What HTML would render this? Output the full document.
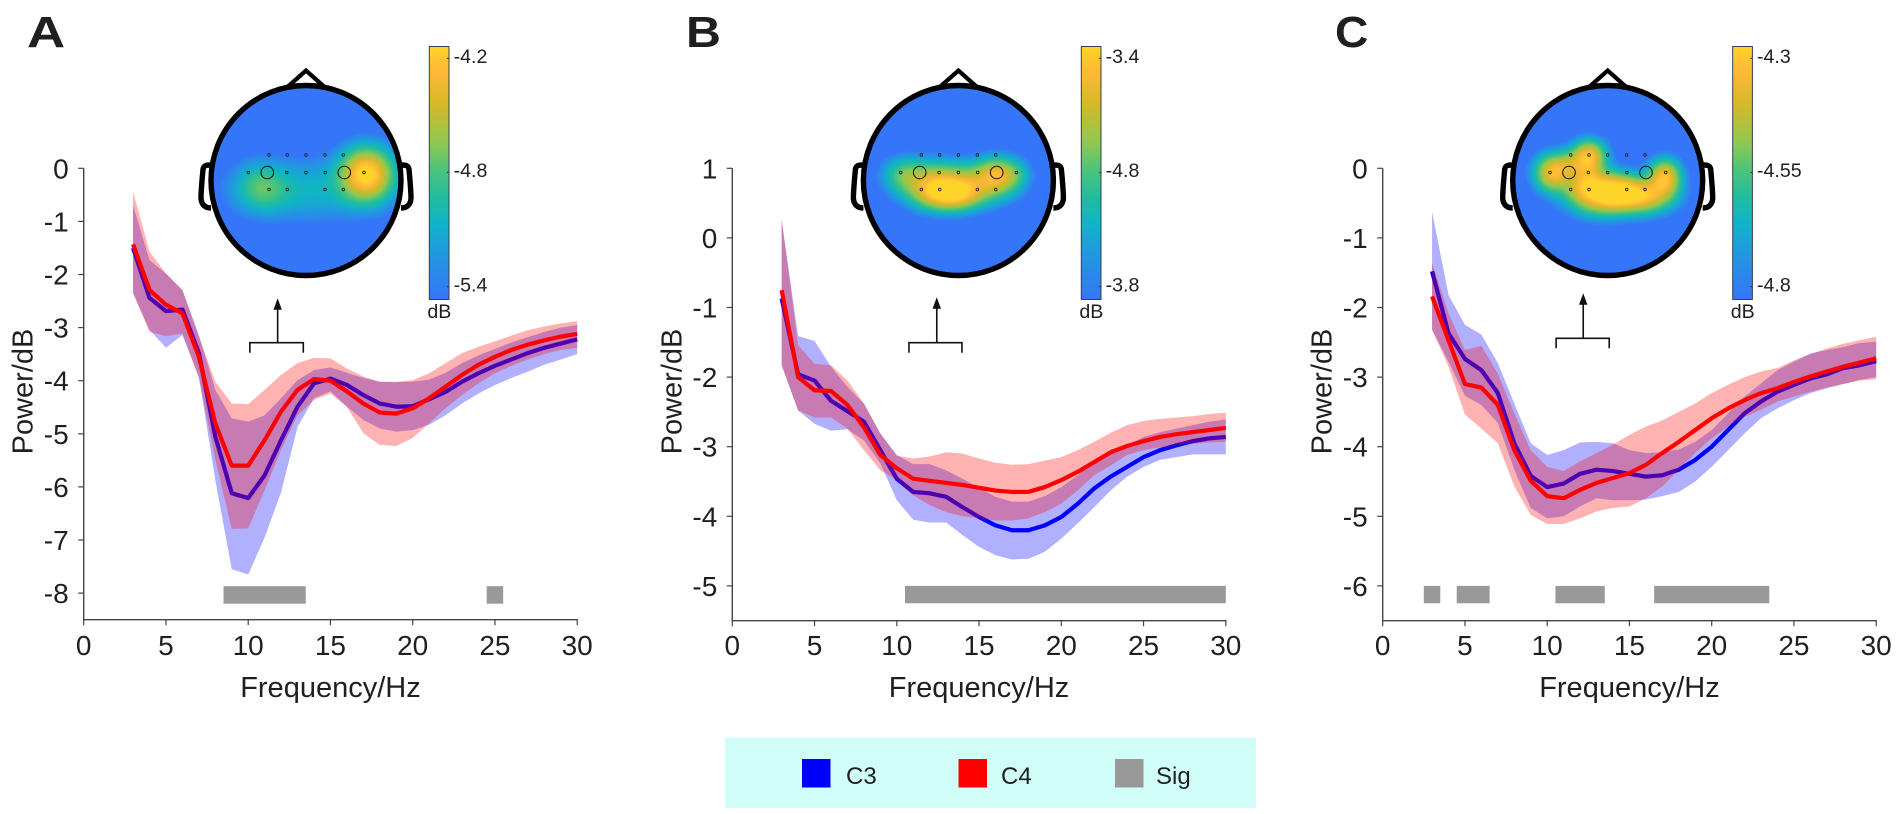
<!DOCTYPE html>
<html lang="en">
<head>
<meta charset="utf-8">
<title>EEG power spectra for C3 and C4</title>
<style>
  html, body { margin: 0; padding: 0; background: #fff; }
  #figure { position: relative; width: 1902px; height: 814px; overflow: hidden; background: #fff; font-family: "Liberation Sans", Arial, sans-serif; }
  #figure canvas { position: absolute; }
  #figure svg { position: absolute; left: 0; top: 0; }
  text { font-family: "Liberation Sans", Arial, sans-serif; fill: #1f1f1f; }
</style>
</head>
<body>
<div id="figure">
  <svg id="chart" width="1902" height="814" viewBox="0 0 1902 814">
    <defs id="defs"></defs>
    <g id="legend">
      <rect x="725" y="737.5" width="531" height="70.5" fill="#cffff8"></rect>
      <rect x="802" y="759" width="28.5" height="28.5" fill="#0000ff"></rect>
      <text x="846" y="784" font-size="24">C3</text>
      <rect x="958.5" y="759" width="28.5" height="28.5" fill="#ff0000"></rect>
      <text x="1001" y="784" font-size="24">C4</text>
      <rect x="1115" y="759" width="28.5" height="28.5" fill="#999999"></rect>
      <text x="1156" y="784" font-size="24">Sig</text>
    </g>
  </svg>
</div>
<script>
const frequencies = [3,4,5,6,7,8,9,10,11,12,13,14,15,16,17,18,19,20,21,22,23,24,25,26,27,28,29,30];
const xTicks = [0,5,10,15,20,25,30];

const yTicksA = [0,-1,-2,-3,-4,-5,-6,-7,-8];
const yTicksB = [1,0,-1,-2,-3,-4,-5];
const yTicksC = [0,-1,-2,-3,-4,-5,-6];

const c3MeanA  = [-1.5,-2.44,-2.69,-2.66,-3.48,-5.05,-6.12,-6.21,-5.78,-5.12,-4.49,-4.05,-3.96,-4.08,-4.27,-4.43,-4.49,-4.48,-4.35,-4.21,-4.02,-3.86,-3.72,-3.6,-3.48,-3.38,-3.3,-3.22];
const c3UpperA = [-0.69,-1.73,-1.98,-2.29,-3.14,-4.17,-4.71,-4.77,-4.65,-4.33,-3.99,-3.8,-3.75,-3.85,-3.95,-4.02,-4.03,-4.02,-3.98,-3.85,-3.67,-3.52,-3.4,-3.28,-3.18,-3.08,-3.0,-2.95];
const c3LowerA = [-2.35,-3.04,-3.38,-3.14,-3.92,-5.87,-7.55,-7.65,-6.95,-6.1,-4.87,-4.33,-4.2,-4.49,-4.74,-4.9,-4.96,-4.93,-4.83,-4.65,-4.43,-4.24,-4.08,-3.95,-3.83,-3.7,-3.6,-3.5];
const c4MeanA  = [-1.43,-2.29,-2.57,-2.73,-3.55,-4.8,-5.6,-5.6,-5.12,-4.58,-4.17,-3.97,-4.0,-4.2,-4.43,-4.6,-4.62,-4.52,-4.33,-4.11,-3.89,-3.7,-3.55,-3.42,-3.32,-3.24,-3.17,-3.12];
const c4UpperA = [-0.44,-1.57,-1.98,-2.3,-3.17,-4.02,-4.43,-4.44,-4.17,-3.89,-3.67,-3.57,-3.58,-3.77,-3.92,-4.02,-4.02,-3.99,-3.86,-3.67,-3.48,-3.36,-3.26,-3.15,-3.05,-2.98,-2.92,-2.88];
const c4LowerA = [-2.35,-3.08,-3.16,-3.11,-3.95,-5.49,-6.79,-6.78,-6.06,-5.3,-4.65,-4.36,-4.24,-4.49,-4.99,-5.21,-5.23,-5.08,-4.8,-4.52,-4.27,-4.05,-3.86,-3.72,-3.6,-3.5,-3.42,-3.38];
const sigRangesA = [[8.5,13.5],[24.5,25.5]];
const sigRowA = [-7.87,-8.2];

const c3MeanB  = [-0.87,-1.96,-2.05,-2.34,-2.49,-2.64,-3.05,-3.46,-3.65,-3.67,-3.72,-3.87,-4.01,-4.13,-4.2,-4.2,-4.13,-4.01,-3.82,-3.6,-3.43,-3.29,-3.15,-3.05,-2.98,-2.92,-2.88,-2.86];
const c3UpperB = [0.25,-1.41,-1.48,-1.85,-2.14,-2.38,-2.81,-3.12,-3.25,-3.25,-3.34,-3.46,-3.59,-3.72,-3.79,-3.79,-3.71,-3.58,-3.41,-3.22,-3.1,-2.98,-2.86,-2.79,-2.74,-2.69,-2.64,-2.61];
const c3LowerB = [-1.83,-2.48,-2.67,-2.77,-2.75,-2.91,-3.24,-3.77,-4.05,-4.09,-4.09,-4.27,-4.44,-4.56,-4.62,-4.61,-4.51,-4.32,-4.1,-3.87,-3.63,-3.43,-3.29,-3.19,-3.15,-3.11,-3.11,-3.11];
const c4MeanB  = [-0.75,-2.0,-2.19,-2.2,-2.4,-2.72,-3.12,-3.31,-3.46,-3.49,-3.52,-3.55,-3.59,-3.63,-3.65,-3.65,-3.58,-3.48,-3.36,-3.22,-3.08,-2.99,-2.92,-2.86,-2.82,-2.79,-2.76,-2.73];
const c4UpperB = [0.28,-1.54,-1.81,-1.83,-2.05,-2.38,-2.81,-3.13,-3.17,-3.14,-3.08,-3.1,-3.17,-3.23,-3.26,-3.25,-3.2,-3.15,-3.05,-2.93,-2.8,-2.69,-2.63,-2.6,-2.58,-2.56,-2.53,-2.51];
const c4LowerB = [-1.83,-2.48,-2.58,-2.58,-2.74,-3.05,-3.34,-3.48,-3.7,-3.84,-3.94,-4.0,-4.03,-4.06,-4.06,-4.03,-3.94,-3.82,-3.63,-3.41,-3.27,-3.12,-3.05,-3.01,-2.98,-2.96,-2.94,-2.93];
const sigRangesB = [[10.5,30]];
const sigRowB = [-5,-5.25];

const c3MeanC  = [-1.48,-2.37,-2.74,-2.9,-3.23,-3.95,-4.42,-4.58,-4.53,-4.39,-4.33,-4.35,-4.39,-4.43,-4.41,-4.33,-4.19,-4.0,-3.76,-3.52,-3.35,-3.21,-3.11,-3.02,-2.96,-2.87,-2.83,-2.77];
const c3UpperC = [-0.62,-1.82,-2.25,-2.39,-2.8,-3.38,-3.95,-4.12,-4.05,-3.94,-3.93,-3.95,-4.05,-4.09,-4.08,-4.04,-3.93,-3.76,-3.52,-3.28,-3.09,-2.9,-2.78,-2.66,-2.61,-2.57,-2.51,-2.49];
const c3LowerC = [-2.32,-2.78,-3.27,-3.4,-3.66,-4.33,-4.88,-5.03,-5.0,-4.86,-4.74,-4.77,-4.77,-4.76,-4.71,-4.65,-4.5,-4.29,-4.05,-3.81,-3.59,-3.45,-3.33,-3.23,-3.16,-3.1,-3.04,-3.0];
const c4MeanC  = [-1.84,-2.47,-3.1,-3.15,-3.4,-4.05,-4.49,-4.71,-4.74,-4.62,-4.52,-4.45,-4.38,-4.26,-4.09,-3.93,-3.76,-3.59,-3.45,-3.33,-3.23,-3.16,-3.07,-2.99,-2.92,-2.85,-2.79,-2.73];
const c4UpperC = [-1.36,-2.08,-2.61,-2.55,-2.95,-3.52,-4.05,-4.29,-4.35,-4.21,-4.09,-3.97,-3.83,-3.71,-3.62,-3.5,-3.38,-3.23,-3.11,-3.0,-2.92,-2.87,-2.76,-2.67,-2.59,-2.52,-2.47,-2.42];
const c4LowerC = [-2.32,-2.85,-3.54,-3.74,-3.95,-4.57,-4.98,-5.11,-5.11,-5.03,-4.93,-4.88,-4.86,-4.74,-4.57,-4.33,-4.09,-3.88,-3.71,-3.57,-3.47,-3.35,-3.28,-3.21,-3.15,-3.1,-3.05,-3.03];
const sigRangesC = [[2.5,3.5],[4.5,6.5],[10.5,13.5],[16.5,23.5]];
const sigRowC = [-6,-6.25];

const colorbarLabelsA = ['-4.2','-4.8','-5.4'];
const colorbarLabelsB = ['-3.4','-4.8','-3.8'];
const colorbarLabelsC = ['-4.3','-4.55','-4.8'];

/* topography: sums of gaussian sources [dx, dy, sx, sy, amplitude] */
const sourcesA = [[60.7,-7,17,17,1.0],[-42.7,8,17,15,0.26],[2,9,50,20,0.2],[-50,0,14,15,0.06]];
const sourcesB = [[-8,12,21,11,1.0],[40,-5,14,12,0.65],[-54,-5,14,12,0.35],[12,4,26,13,0.3],[-28,2,17,14,0.35],[0,-10,32,9,0.15],[60,-6,9,10,0.12]];
const sourcesC = [[-55,-8,12,12,0.8],[-19,-26,11,10,0.78],[-6,13,21,13,1.0],[34,15,20,11,0.82],[57,-4,10.5,11.5,0.82],[-20,-6,11,11,0.45],[-38,-17,11,9,0.3],[10,8,13,10,0.3],[-30,8,10,8,0.15]];

const colormapStops = [0,0.18,0.30,0.40,0.52,0.62,0.78,0.90,1];
const colormapColors = ['#3575f8','#2298e0','#10b4c8','#20bca0','#50c478','#90c850','#d8b828','#ffb838','#ffd428'];

const electrodeTopRow = [-37,-18.7,0,19,37.3];
const electrodeMidRow = [-57.7,-19.3,0,19.3,58];
const electrodeBottomRow = [-37,-18.7,19,37.3];
const referenceElectrodes = [-38.7,38.3];

const panels = [
  { id:'a', letter:'A', letterX:27, letterScale:1.2, left:83.7, top:168.3, pxPerDb:53.1, yMax:0, yMin:-8.5, yTicks:yTicksA,
    c3:[c3MeanA,c3UpperA,c3LowerA], c4:[c4MeanA,c4UpperA,c4LowerA], sig:sigRangesA, sigRow:sigRowA,
    bracket:[10.1,13.35], arrowHz:11.79, bracketY:342.7, arrowTip:298.3, headX:306, barX:429.3, barLabels:colorbarLabelsA, sources:sourcesA },
  { id:'b', letter:'B', letterX:686, letterScale:1.1, left:732.3, top:168.3, pxPerDb:69.6, yMax:1, yMin:-5.5, yTicks:yTicksB,
    c3:[c3MeanB,c3UpperB,c3LowerB], c4:[c4MeanB,c4UpperB,c4LowerB], sig:sigRangesB, sigRow:sigRowB,
    bracket:[10.74,13.96], arrowHz:12.43, bracketY:342.7, arrowTip:297.3, headX:958.4, barX:1081.3, barLabels:colorbarLabelsB, sources:sourcesB },
  { id:'c', letter:'C', letterX:1335, letterScale:1.05, left:1382.7, top:168.3, pxPerDb:69.6, yMax:0, yMin:-6.5, yTicks:yTicksC,
    c3:[c3MeanC,c3UpperC,c3LowerC], c4:[c4MeanC,c4UpperC,c4LowerC], sig:sigRangesC, sigRow:sigRowC,
    bracket:[10.54,13.77], arrowHz:12.19, bracketY:338.3, arrowTip:293.3, headX:1607.7, barX:1732.7, barLabels:colorbarLabelsC, sources:sourcesC }
];

const PX_PER_HZ = 16.45;
const HEAD_Y = 180.5;
const HEAD_R = 95;
const FIELD_FLOOR = 0.05;
const FIELD_GAMMA = 0.65;
const svg = document.getElementById('chart');
const defs = document.getElementById('defs');
const figure = document.getElementById('figure');
const NS = 'http://www.w3.org/2000/svg';

function make(parent, tag, props, text) {
  const node = document.createElementNS(NS, tag);
  for (const key in props) node.setAttribute(key, props[key]);
  if (text !== undefined) node.textContent = text;
  parent.appendChild(node);
  return node;
}

function hexToRgb(h) {
  return [parseInt(h.slice(1,3),16), parseInt(h.slice(3,5),16), parseInt(h.slice(5,7),16)];
}

function colormap(t) {
  t = Math.max(0, Math.min(1, t));
  for (let i = 1; i < colormapStops.length; i++) {
    if (t <= colormapStops[i]) {
      const u = (t - colormapStops[i-1]) / (colormapStops[i] - colormapStops[i-1]);
      const a = hexToRgb(colormapColors[i-1]);
      const b = hexToRgb(colormapColors[i]);
      return [a[0]+(b[0]-a[0])*u, a[1]+(b[1]-a[1])*u, a[2]+(b[2]-a[2])*u];
    }
  }
  return hexToRgb(colormapColors[colormapColors.length-1]);
}

function linePoints(xs, ys, sx, sy) {
  return xs.map((x, i) => sx(x).toFixed(2) + ',' + sy(ys[i]).toFixed(2)).join(' ');
}

function bandPoints(xs, upper, lower, sx, sy) {
  const a = xs.map((x, i) => sx(x).toFixed(2) + ',' + sy(upper[i]).toFixed(2));
  const b = xs.map((x, i) => sx(x).toFixed(2) + ',' + sy(lower[i]).toFixed(2)).reverse();
  return a.concat(b).join(' ');
}

function drawTopography(p) {
  const size = 2 * HEAD_R + 2;
  const canvas = document.createElement('canvas');
  canvas.width = size;
  canvas.height = size;
  canvas.style.left = (p.headX - HEAD_R - 1) + 'px';
  canvas.style.top = (HEAD_Y - HEAD_R - 1) + 'px';
  
  
  figure.insertBefore(canvas, svg);
  const ctx = canvas.getContext('2d');
  const image = ctx.createImageData(size, size);
  for (let j = 0; j < size; j++) {
    for (let i = 0; i < size; i++) {
      const dx = i - HEAD_R - 1 + 0.5;
      const dy = j - HEAD_R - 1 + 0.5;
      if (dx*dx + dy*dy > (HEAD_R+1)*(HEAD_R+1)) continue;
      let f = 0;
      for (const s of p.sources) {
        const ex = (dx - s[0]) / s[2];
        const ey = (dy - s[1]) / s[3];
        f += s[4] * Math.exp(-0.5 * (ex*ex + ey*ey));
      }
      const level = Math.max(0, Math.min(1, (f - FIELD_FLOOR) / (1 - FIELD_FLOOR)));
      const c = colormap(Math.pow(level, FIELD_GAMMA));
      const k = (j * size + i) * 4;
      image.data[k] = c[0];
      image.data[k+1] = c[1];
      image.data[k+2] = c[2];
      image.data[k+3] = 255;
    }
  }
  ctx.putImageData(image, 0, 0);
}

function drawHead(p) {
  const g = make(svg, 'g', { transform: 'translate(' + p.headX + ' ' + HEAD_Y + ')' });
  
  
  const outline = { fill: 'none', stroke: '#000', 'stroke-width': 5.4, 'stroke-linejoin': 'round' };
  const nose = make(g, 'polyline', { points: '-18,-94 0,-110 18,-94', fill: 'none', stroke: '#000', 'stroke-width': 4.2, 'stroke-linejoin': 'miter' });
  
  
  const earPath = 'M-95.5,-15.5 C-100,-15.5 -102.5,-15 -103,-11 C-104,0 -105,10 -105,18 C-104.5,24 -101,27.5 -95,27.5';
  const earL = make(g, 'path', Object.assign({ d: earPath }, outline));
  
  
  const earR = make(g, 'path', Object.assign({ d: earPath, transform: 'scale(-1 1)' }, outline));
  
  
  const circle = make(g, 'circle', Object.assign({ cx: 0, cy: 0, r: HEAD_R }, outline));
  
  
  const rows = [[electrodeTopRow, -25.5], [electrodeMidRow, -8], [electrodeBottomRow, 9]];
  for (const row of rows) {
    for (const ex of row[0]) {
      const dot = make(g, 'circle', { cx: ex, cy: row[1], r: 1.3, fill: 'none', stroke: '#222', 'stroke-width': 0.8 });
      
      
    }
  }
  for (const ex of referenceElectrodes) {
    const ring = make(g, 'circle', { cx: ex, cy: -8, r: 6.3, fill: 'none', stroke: '#111', 'stroke-width': 1 });
    
    
  }
}

function drawColorbar(p) {
  const gradId = 'bar-gradient-' + p.id;
  const grad = make(defs, 'linearGradient', { id: gradId, x1: 0, y1: 1, x2: 0, y2: 0 });
  colormapStops.forEach((s, i) => make(grad, 'stop', { offset: s, 'stop-color': colormapColors[i] }));
  const g = make(svg, 'g', {});
  
  
  const bar = make(g, 'rect', { x: p.barX, y: 46.5, width: 19.7, height: 253, fill: 'url(#' + gradId + ')', stroke: '#33424a', 'stroke-width': 1 });
  
  
  const tickYs = [58.3, 172.3, 286.7];
  p.barLabels.forEach((label, i) => {
    const tick = make(g, 'line', { x1: p.barX + 17.5, x2: p.barX + 19.7, y1: tickYs[i], y2: tickYs[i], stroke: '#333', 'stroke-width': 1 });
    
    
    const t = make(g, 'text', { x: p.barX + 24.3, y: tickYs[i] + 4.8, 'font-size': 19.6 }, label);
    
    
  });
  const unit = make(g, 'text', { x: p.barX + 10, y: 318, 'font-size': 19.6, 'text-anchor': 'middle' }, 'dB');
  
  
}

function drawPanel(p) {
  const sx = hz => p.left + hz * PX_PER_HZ;
  const sy = db => p.top + (p.yMax - db) * p.pxPerDb;
  const right = sx(30);
  const bottom = sy(p.yMin);
  const g = make(svg, 'g', {});
  
  

  const label = make(g, 'text', { x: 0, y: 0, 'font-size': 44, 'font-weight': 'bold', fill: '#000', transform: 'translate(' + p.letterX + ' 47) scale(' + p.letterScale + ' 1)' }, p.letter);
  
  

  /* significance bars */
  for (const range of p.sig) {
    const bar = make(g, 'rect', { x: sx(range[0]), y: sy(p.sigRow[0]), width: sx(range[1]) - sx(range[0]), height: sy(p.sigRow[1]) - sy(p.sigRow[0]), fill: '#999999' });
    
    
  }

  /* series: blue first, red translucent band laid over the blue line */
  const c3Band = make(g, 'polygon', { points: bandPoints(frequencies, p.c3[1], p.c3[2], sx, sy), fill: 'rgba(0,0,255,0.31)' });
  
  
  const c3Line = make(g, 'polyline', { points: linePoints(frequencies, p.c3[0], sx, sy), fill: 'none', stroke: '#0000ff', 'stroke-width': 4.2, 'stroke-linejoin': 'round' });
  
  
  const c4Band = make(g, 'polygon', { points: bandPoints(frequencies, p.c4[1], p.c4[2], sx, sy), fill: 'rgba(255,0,0,0.3)' });
  
  
  const c4Line = make(g, 'polyline', { points: linePoints(frequencies, p.c4[0], sx, sy), fill: 'none', stroke: '#ff0000', 'stroke-width': 4.2, 'stroke-linejoin': 'round' });
  
  

  /* axes */
  const yAxis = make(g, 'line', { x1: p.left, x2: p.left, y1: p.top, y2: bottom, stroke: '#444', 'stroke-width': 1.4 });
  
  
  const xAxis = make(g, 'line', { x1: p.left - 0.7, x2: right + 0.7, y1: bottom, y2: bottom, stroke: '#444', 'stroke-width': 1.4 });
  
  

  for (const v of p.yTicks) {
    const tick = make(g, 'line', { x1: p.left - 5.5, x2: p.left, y1: sy(v), y2: sy(v), stroke: '#444', 'stroke-width': 1.2 });
    
    
    const t = make(g, 'text', { x: p.left - 15, y: sy(v) + 10, 'font-size': 28, 'text-anchor': 'end' }, String(v));
    
    
  }
  for (const v of xTicks) {
    const tick = make(g, 'line', { x1: sx(v), x2: sx(v), y1: bottom, y2: bottom + 5.5, stroke: '#444', 'stroke-width': 1.2 });
    
    
    const t = make(g, 'text', { x: sx(v), y: 655, 'font-size': 28, 'text-anchor': 'middle' }, String(v));
    
    
  }

  const xTitle = make(g, 'text', { x: (p.left + right) / 2, y: 697, 'font-size': 29, 'text-anchor': 'middle' }, 'Frequency/Hz');
  
  
  const yTitle = make(g, 'text', { x: 0, y: 0, 'font-size': 29, 'text-anchor': 'middle', transform: 'translate(' + (p.left - 51) + ' 391.5) rotate(-90)' }, 'Power/dB');
  
  

  /* bracket + arrow pointing at the topography */
  const x0 = sx(p.bracket[0]);
  const x1 = sx(p.bracket[1]);
  const ax = sx(p.arrowHz);
  const bracket = make(g, 'polyline', { points: x0 + ',' + (p.bracketY + 10) + ' ' + x0 + ',' + p.bracketY + ' ' + x1 + ',' + p.bracketY + ' ' + x1 + ',' + (p.bracketY + 10), fill: 'none', stroke: '#111', 'stroke-width': 1.6 });
  
  
  const stem = make(g, 'line', { x1: ax, x2: ax, y1: p.bracketY, y2: p.arrowTip + 8, stroke: '#111', 'stroke-width': 1.6 });
  
  
  const head = make(g, 'polygon', { points: ax + ',' + p.arrowTip + ' ' + (ax + 4.2) + ',' + (p.arrowTip + 11.5) + ' ' + (ax - 4.2) + ',' + (p.arrowTip + 11.5), fill: '#111' });
  
  
}

panels.forEach(p => {
  drawTopography(p);
  drawPanel(p);
  drawHead(p);
  drawColorbar(p);
});
</script>
</body>
</html>
